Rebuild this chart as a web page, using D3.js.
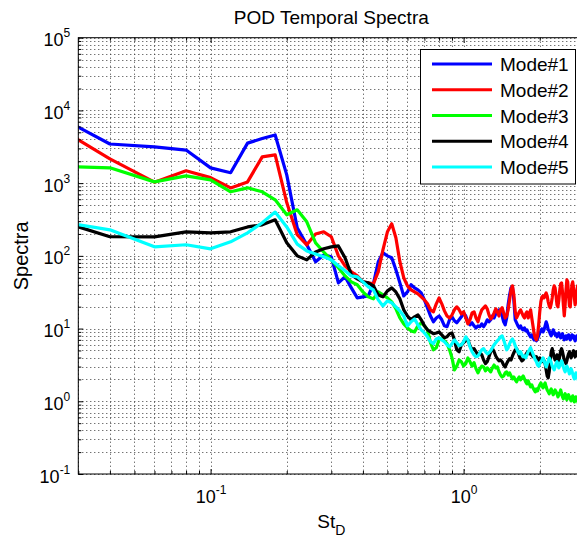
<!DOCTYPE html>
<html><head><meta charset="utf-8">
<script src="https://cdn.jsdelivr.net/npm/d3@7"></script>
<style>
body{margin:0;background:#fff}
svg{display:block}
text{font-family:"Liberation Sans",Arial,Helvetica,sans-serif;fill:#000}
</style>
</head><body>
<svg id="chart" width="577" height="538"></svg>
<script>
// ---- data (Strouhal number St_D, spectra of the five POD modes) ----
const freqs = [
0.02,0.04,0.06,0.08,0.10,0.12,0.14,0.16,0.18,0.20,
0.22,0.24,0.26,0.28,0.30,0.32,0.34,0.36,0.38,0.40,
0.42,0.44,0.46,0.48,0.50,0.52,0.54,0.56,0.58,0.60,
0.62,0.64,0.66,0.68,0.70,0.72,0.74,0.76,0.78,0.80,
0.82,0.84,0.86,0.88,0.90,0.92,0.94,0.96,0.98,1.00,
1.02,1.04,1.06,1.08,1.10,1.12,1.14,1.16,1.18,1.20,
1.22,1.24,1.26,1.28,1.30,1.32,1.34,1.36,1.38,1.40,
1.42,1.44,1.46,1.48,1.50,1.52,1.54,1.56,1.58,1.60,
1.62,1.64,1.66,1.68,1.70,1.72,1.74,1.76,1.78,1.80,
1.82,1.84,1.86,1.88,1.90,1.92,1.94,1.96,1.98,2.00,
2.02,2.04,2.06,2.08,2.10,2.12,2.14,2.16,2.18,2.20,
2.22,2.24,2.26,2.28,2.30,2.32,2.34,2.36,2.38,2.40,
2.42,2.44,2.46,2.48,2.50,2.52,2.54,2.56,2.58,2.60,
2.62,2.64,2.66,2.68,2.70,2.72,2.74,2.76,2.78,2.80,
2.82,2.84,2.86,2.88,2.90,2.92,2.94,2.96,2.98,3.00];

const mode1 = [
12500,3450,3150,2850,1620,1390,3550,4100,4600,1300,
243,142,83,103,97,42.5,51.5,36.3,26.4,27.3,
28.1,41.2,83,110,100,94,64.5,42.5,28.1,31.9,
40,36.3,34,30.9,24.8,19.3,14.9,12.4,14.0,14.9,
13.2,10.9,10.6,13.2,14.5,12.8,12.0,13.2,14.5,16.4,
14.9,12.4,11.25,12.0,10.9,10.2,10.9,10.6,11.6,10.6,
11.6,13.2,12.4,13.2,14.9,14.0,15.9,17.0,18.1,18.1,
14.9,12.4,11.25,14.0,21.2,29.0,36.3,37.5,24.8,13.2,
12.0,10.9,10.2,10.9,9.9,9.6,10.2,9.3,9.6,8.7,
8.2,7.7,8.2,7.45,7.0,7.45,6.8,7.2,7.95,8.7,
9.3,9.9,9.0,9.6,10.9,12.4,11.25,9.6,9.3,8.5,
7.95,8.7,9.6,9.0,8.2,8.5,7.7,8.2,8.7,7.95,
7.45,7.95,8.5,7.7,7.0,7.45,7.95,7.2,7.7,8.2,
7.45,7.0,7.7,8.2,7.45,7.95,7.2,6.8,7.45,7.95,
7.2,7.7,7.0,7.45,7.95,7.2,6.8,7.2,7.7,7.0];

const mode2 = [
9200,2160,1030,1480,1190,860,1040,2300,2450,540,
195,142,200,214,183,100,73,60.5,53,43.9,
42.5,41.2,60.5,121,214,276,177,83,50,38.7,
34,31.9,30,27.3,24.8,21.9,18.1,17.0,21.9,26.4,
21.9,17.5,14.9,14.0,15.4,18.1,19.9,18.1,15.9,17.0,
14.0,11.6,13.2,16.4,17.0,14.0,12.4,15.4,18.1,19.3,
20.5,18.7,15.4,13.6,14.5,16.4,18.7,17.0,14.9,18.1,
19.3,16.4,14.0,14.9,18.1,24.8,34,38.7,29,17.0,
14.0,15.4,17.0,18.1,16.4,14.9,14.0,15.9,17.0,14.0,
15.9,18.1,14.0,10.9,8.5,7.45,7.0,7.95,11.25,17.0,
23.3,27.3,28.1,26.4,29.0,30.9,28.1,23.3,20.5,19.3,
21.9,26.4,34,38.7,36.3,28.1,21.2,19.9,24.8,34,
41.2,42.5,31.9,21.2,14.9,21.2,34,46.8,43.9,29,
20.5,19.9,29,40,43.9,36.3,26.4,21.2,24.8,31.9,
38.7,34,26.4,21.9,24.8,30,36.3,31.9,24.8,21.2];

const mode3 = [
1750,1625,1040,1260,1110,760,862,760,590,367,
430,294,151,113,88,68.5,53,43.9,40,31.9,
27.3,25.6,31.9,29,26.4,23.3,18.7,14.0,11.6,10.2,
9.3,9.0,10.9,12.0,10.9,9.6,6.4,5.1,5.45,7.0,
7.2,6.8,6.2,5.1,3.95,2.70,3.05,3.7,3.5,3.05,
3.3,3.95,3.5,3.05,3.4,2.79,2.46,2.79,3.05,2.97,
2.62,2.88,2.70,2.54,2.88,3.15,2.88,2.97,2.54,2.30,
2.16,2.23,2.46,2.54,2.30,2.46,2.23,2.03,2.16,1.97,
1.85,2.03,2.16,1.97,2.10,2.23,2.03,1.85,1.74,1.91,
1.74,1.58,1.68,1.53,1.43,1.35,1.48,1.39,1.53,1.68,
1.79,1.63,1.53,1.68,1.79,1.58,1.43,1.35,1.27,1.39,
1.48,1.35,1.23,1.31,1.43,1.35,1.27,1.15,1.23,1.31,
1.43,1.27,1.15,1.08,1.19,1.27,1.15,1.05,1.12,1.23,
1.15,1.08,1.01,1.12,1.19,1.08,0.98,1.05,1.15,1.08,
1.01,0.95,1.05,1.12,1.01,0.95,1.08,1.15,1.05,0.98];

const mode4 = [
390,183,182,214,207,214,250,267,313,151,
100,88,113,125,133,137,94,55,48.3,43.9,
42.5,38.7,29,27.3,33,36.3,31.9,25.6,18.1,14.9,
13.2,14.5,15.4,13.2,10.9,9.6,9.0,8.5,8.7,9.0,
8.2,7.45,7.7,8.5,8.7,7.0,5.1,4.8,6.0,6.4,
6.8,7.0,5.8,5.1,5.3,4.8,4.35,4.65,4.35,3.7,
3.3,3.5,4.1,4.8,5.3,4.8,4.2,3.85,3.6,3.7,
3.5,3.15,2.97,3.3,3.6,3.85,3.7,4.2,4.65,5.1,
5.3,4.8,4.2,3.85,3.6,3.7,4.1,4.35,4.65,4.8,
4.5,4.65,4.35,4.1,4.2,3.95,4.1,3.85,3.7,3.95,
3.7,3.5,3.85,3.6,3.3,2.70,2.23,2.10,2.54,3.5,
4.8,5.3,4.65,4.1,3.7,3.95,4.35,3.85,3.6,4.2,
4.95,5.3,4.8,4.2,3.7,3.5,3.3,3.6,4.1,4.5,
4.8,4.35,3.95,4.2,4.65,4.95,4.5,4.1,4.35,4.8,
4.5,4.1,3.85,4.2,4.5,4.35,3.95,4.2,4.65,4.35];

const mode5 = [
335,228,133,142,125,156,207,285,400,250,
145,117,106,97,88,73,62.5,53,51.5,43.9,
37.5,34,24.8,20.5,24.0,22.6,19.9,17.5,14.9,10.9,
12.4,13.6,11.25,9.6,8.7,7.7,6.6,6.2,7.2,7.45,
7.0,6.6,6.0,5.6,6.2,7.0,6.4,5.8,6.0,6.6,
7.7,7.0,5.6,4.8,4.35,4.1,4.2,4.65,5.1,5.3,
4.8,4.5,4.65,4.95,5.45,6.0,6.4,6.8,7.2,7.7,
7.95,7.0,6.0,5.1,5.45,6.2,6.8,7.2,6.6,5.8,
5.3,4.8,4.5,4.8,4.35,4.1,4.2,3.95,4.35,4.8,
5.1,5.45,4.95,4.5,4.1,3.7,3.5,3.15,3.05,3.3,
3.5,3.7,3.95,3.6,3.3,2.97,3.3,3.6,3.95,3.7,
3.4,3.05,2.88,2.70,2.97,3.3,3.5,3.15,2.88,3.05,
3.4,3.6,3.3,2.97,2.70,2.54,2.79,3.05,2.88,2.62,
2.38,2.54,2.79,2.62,2.38,2.16,2.03,2.23,2.46,2.30,
2.10,1.97,1.79,1.97,2.16,2.03,1.85,1.74,1.91,2.03];

const seriesNames  = ["Mode#1","Mode#2","Mode#3","Mode#4","Mode#5"];
const seriesValues = [mode1, mode2, mode3, mode4, mode5];
const seriesColors = ["#0000ff","#ff0000","#00ff00","#000000","#00ffff"];

const xMajorTicks = [0.1, 1];
const xMajorLabels = ["-1", "0"];
const xMinorTicks = [0.03,0.04,0.05,0.06,0.07,0.08,0.09,0.2,0.3,0.4,0.5,0.6,0.7,0.8,0.9,2,3];
const yMajorTicks = [0.1, 1, 10, 100, 1000, 10000, 100000];
const yMajorLabels = ["-1","0","1","2","3","4","5"];
const yMinorTicks = [0.2,0.3,0.4,0.5,0.6,0.7,0.8,0.9, 2,3,4,5,6,7,8,9, 20,30,40,50,60,70,80,90,
  200,300,400,500,600,700,800,900, 2000,3000,4000,5000,6000,7000,8000,9000,
  20000,30000,40000,50000,60000,70000,80000,90000];

// ---- layout ----
const L = 78.3, T = 37.7, R = 584.3, B = 474;
const svg = d3.select("#chart");
const x = d3.scaleLog().domain([0.03, 3]).range([L, R]);
const y = d3.scaleLog().domain([0.1, 1e5]).range([B, T]);

svg.append("defs").append("clipPath").attr("id","plotclip")
  .append("rect").attr("x",L).attr("y",T).attr("width",R-L).attr("height",B-T);

// grid (dotted, major + minor)
const grid = svg.append("g").attr("stroke","#3a3a3a").attr("stroke-width",1)
  .attr("stroke-dasharray","1,3").attr("fill","none");
grid.selectAll("line.gx").data(xMajorTicks.concat(xMinorTicks)).join("line")
  .attr("class","gx")
  .attr("x1",d=>Math.round(x(d))+0.5).attr("x2",d=>Math.round(x(d))+0.5).attr("y1",T).attr("y2",B);
grid.selectAll("line.gy").data(yMajorTicks.concat(yMinorTicks)).join("line")
  .attr("class","gy")
  .attr("x1",L).attr("x2",R).attr("y1",d=>Math.round(y(d))+0.5).attr("y2",d=>Math.round(y(d))+0.5);

// data lines
const line = d3.line().x(d=>x(d[0])).y(d=>y(d[1]));
const plot = svg.append("g").attr("clip-path","url(#plotclip)");
seriesValues.forEach((vals,i)=>{
  plot.append("path")
    .datum(freqs.map((f,j)=>[f, vals[j]]))
    .attr("fill","none")
    .attr("stroke",seriesColors[i])
    .attr("stroke-width",3.2)
    .attr("stroke-linejoin","round")
    .attr("d",line);
});

// axes: ticks pointing inward on all four sides
function styleAxis(g){
  g.select(".domain").remove();
  g.selectAll(".tick line").attr("stroke","#000").attr("stroke-width",1);
}
const axB = svg.append("g").attr("transform",`translate(0,${B})`)
  .call(d3.axisBottom(x).tickValues(xMajorTicks).tickSizeInner(-5).tickSizeOuter(0)
        .tickFormat((d,i)=>xMajorLabels[i]));
svg.append("g").attr("transform",`translate(0,${B})`)
  .call(d3.axisBottom(x).tickValues(xMinorTicks).tickSizeInner(-3).tickSizeOuter(0).tickFormat(""))
  .call(styleAxis);
svg.append("g").attr("transform",`translate(0,${T})`)
  .call(d3.axisTop(x).tickValues(xMajorTicks).tickSizeInner(-5).tickSizeOuter(0).tickFormat(""))
  .call(styleAxis);
svg.append("g").attr("transform",`translate(0,${T})`)
  .call(d3.axisTop(x).tickValues(xMinorTicks).tickSizeInner(-3).tickSizeOuter(0).tickFormat(""))
  .call(styleAxis);
const axL = svg.append("g").attr("transform",`translate(${L},0)`)
  .call(d3.axisLeft(y).tickValues(yMajorTicks).tickSizeInner(-5).tickSizeOuter(0)
        .tickFormat((d,i)=>yMajorLabels[i]));
svg.append("g").attr("transform",`translate(${L},0)`)
  .call(d3.axisLeft(y).tickValues(yMinorTicks).tickSizeInner(-3).tickSizeOuter(0).tickFormat(""))
  .call(styleAxis);
svg.append("g").attr("transform",`translate(${R},0)`)
  .call(d3.axisRight(y).tickValues(yMajorTicks).tickSizeInner(-5).tickSizeOuter(0).tickFormat(""))
  .call(styleAxis);
svg.append("g").attr("transform",`translate(${R},0)`)
  .call(d3.axisRight(y).tickValues(yMinorTicks).tickSizeInner(-3).tickSizeOuter(0).tickFormat(""))
  .call(styleAxis);
styleAxis(axB); styleAxis(axL);

// power-of-ten labels: "10" with a superscript exponent
function powerLabel(sel){
  sel.each(function(){
    const t = d3.select(this);
    const e = t.text();
    t.text(null).attr("font-size",18).attr("fill","#000");
    t.append("tspan").text("10");
    t.append("tspan").attr("dy",-9).attr("font-size",12).text(e);
  });
}
axB.selectAll(".tick text").attr("y",29).attr("dy",0).attr("text-anchor","middle").call(powerLabel);
axL.selectAll(".tick text").attr("x",-8).attr("dy",0).attr("y",8).attr("text-anchor","end").call(powerLabel);
axB.attr("font-family",null); axL.attr("font-family",null);

// frame
svg.append("rect").attr("x",L).attr("y",T).attr("width",R-L).attr("height",B-T)
  .attr("fill","none").attr("stroke","#000").attr("stroke-width",1);

// titles
svg.append("text").attr("x",(L+R)/2).attr("y",24).attr("text-anchor","middle")
  .attr("font-size",19).text("POD Temporal Spectra");
svg.append("text").attr("transform",`translate(28,${(T+B)/2}) rotate(-90)`)
  .attr("text-anchor","middle").attr("font-size",20).text("Spectra");
const xl = svg.append("text").attr("x",(L+R)/2).attr("y",528).attr("text-anchor","middle").attr("font-size",19);
xl.append("tspan").text("St");
xl.append("tspan").attr("dy",7).attr("font-size",14).text("D");

// legend
const lg = svg.append("g");
lg.append("rect").attr("x",420.5).attr("y",49.5).attr("width",155).attr("height",134.5)
  .attr("fill","#fff").attr("stroke","#000").attr("stroke-width",1);
seriesNames.forEach((name,i)=>{
  const cy = 64 + i*25.75;
  lg.append("line").attr("x1",432).attr("x2",492).attr("y1",cy).attr("y2",cy)
    .attr("stroke",seriesColors[i]).attr("stroke-width",3.2);
  lg.append("text").attr("x",500).attr("y",cy+7).attr("font-size",19).text(name);
});
</script>
</body></html>
